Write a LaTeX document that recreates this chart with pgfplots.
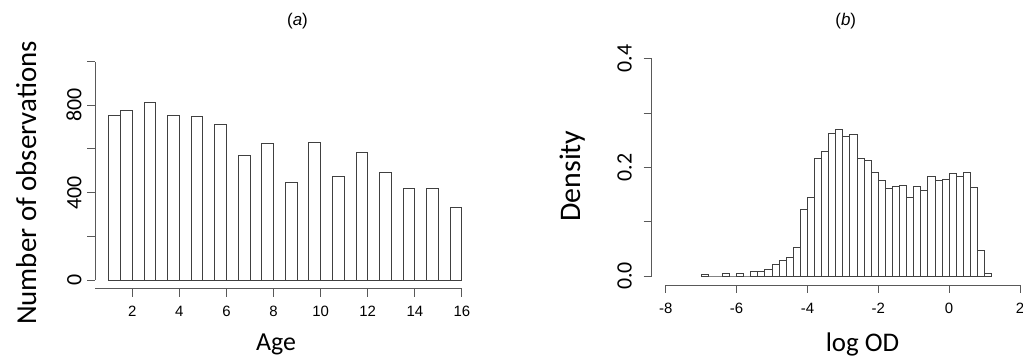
\documentclass[border=0pt]{standalone}
\usepackage{fontspec}
\usepackage{pgfplots}
\pgfplotsset{compat=1.18}
\setmainfont{Liberation Sans}
\newfontfamily\arial{Liberation Sans}
\newfontfamily\calibri{Carlito}
\definecolor{axgray}{gray}{0.35}
\begin{document}
\begin{tikzpicture}
\path[use as bounding box] (0,0) rectangle (1023bp,363bp);
% ---------------- panel (a)
\begin{axis}[
  at={(95.3bp,74.3bp)}, anchor=south west,
  scale only axis, width=378.4bp, height=227.1bp,
  xmin=0.43, xmax=16.5, ymin=-40, ymax=1000,
  clip=false,
  axis x line*=bottom, axis y line*=left,
  axis line style={draw=none},
  tick align=outside, major tick length=8bp,
  every tick/.style={axgray, line width=0.9bp},
  xtick={2,4,...,16}, xticklabels={2,4,6,8,10,12,14,16},
  ytick={0,200,...,1000}, yticklabels={0,,400,,800,},
  xticklabel style={font=\arial\fontsize{15}{15}\selectfont, anchor=base, yshift=-20bp},
  yticklabel style={font=\calibri\fontsize{22}{22}\selectfont, rotate=90, anchor=base},
  yticklabel shift=6bp,
]
\addplot[ybar interval=1, draw=black!75, fill=white, line width=0.9bp] coordinates {
(1,752) (1.5,775) (2,0) (2.5,813) (3,0) (3.5,752) (4,0) (4.5,748) (5,0) (5.5,711)
(6,0) (6.5,572) (7,0) (7.5,627) (8,0) (8.5,446) (9,0) (9.5,630) (10,0) (10.5,475)
(11,0) (11.5,583) (12,0) (12.5,494) (13,0) (13.5,417) (14,0) (14.5,417) (15,0) (15.5,331) (16,0)
};
\draw[axgray, line width=0.9bp] (axis cs:0.43,0) -- (axis cs:0.43,1000);
\draw[axgray, line width=0.9bp] (axis cs:0.43,-40) -- (axis cs:16,-40);
\end{axis}
% ---------------- panel (b)
\begin{axis}[
  at={(651.7bp,78bp)}, anchor=south west,
  scale only axis, width=370.07bp, height=226.3bp,
  xmin=-8.395, xmax=2.05, ymin=-0.01657, ymax=0.4,
  clip=false,
  axis x line*=bottom, axis y line*=left,
  axis line style={draw=none},
  tick align=outside, major tick length=8bp,
  every tick/.style={axgray, line width=0.9bp},
  xtick={-8,-6,-4,-2,0,2}, xticklabels={-8,-6,-4,-2,0,2},
  ytick={0,0.1,0.2,0.3,0.4}, yticklabels={0.0,,0.2,,0.4},
  xticklabel style={font=\arial\fontsize{15}{15}\selectfont, anchor=base, yshift=-20bp},
  yticklabel style={font=\calibri\fontsize{22}{22}\selectfont, rotate=90, anchor=base},
  yticklabel shift=12bp,
]
\addplot[ybar interval=1, draw=black!75, fill=white, line width=0.9bp] coordinates {
(-7.0,0.0025) (-6.8,0) (-6.6,0) (-6.4,0.0055) (-6.2,0) (-6.0,0.004) (-5.8,0)
(-5.6,0.0075) (-5.4,0.0078) (-5.2,0.0117) (-5.0,0.022) (-4.8,0.028) (-4.6,0.035)
(-4.4,0.053) (-4.2,0.123) (-4.0,0.145) (-3.8,0.216) (-3.6,0.229) (-3.4,0.262)
(-3.2,0.270) (-3.0,0.256) (-2.8,0.260) (-2.6,0.216) (-2.4,0.212) (-2.2,0.191)
(-2.0,0.176) (-1.8,0.161) (-1.6,0.165) (-1.4,0.167) (-1.2,0.145) (-1.0,0.164)
(-0.8,0.158) (-0.6,0.184) (-0.4,0.176) (-0.2,0.177) (0.0,0.188) (0.2,0.183)
(0.4,0.190) (0.6,0.163) (0.8,0.047) (1.0,0.004) (1.2,0)
};
\draw[axgray, line width=0.9bp] (axis cs:-8.395,0) -- (axis cs:-8.395,0.4);
\draw[axgray, line width=0.9bp] (axis cs:-8,-0.01657) -- (axis cs:2,-0.01657);
\end{axis}
% ---------------- titles and axis labels
\node[font=\arial\fontsize{17}{17}\selectfont, anchor=base] at (297.5bp,337bp) {(\textit{a})};
\node[font=\arial\fontsize{17}{17}\selectfont, anchor=base] at (845.7bp,337bp) {(\textit{b})};
\node[font=\calibri\fontsize{26}{26}\selectfont, anchor=base] at (276bp,12.5bp) {Age};
\node[font=\calibri\fontsize{27}{27}\selectfont, anchor=base] at (862.5bp,12bp) {log OD};
\node[font=\calibri\fontsize{29}{29}\selectfont, rotate=90, anchor=base] at (36bp,180bp) {Number of observations};
\node[font=\calibri\fontsize{30}{30}\selectfont, rotate=90, anchor=base] at (580bp,187bp) {Density};
\end{tikzpicture}
\end{document}
